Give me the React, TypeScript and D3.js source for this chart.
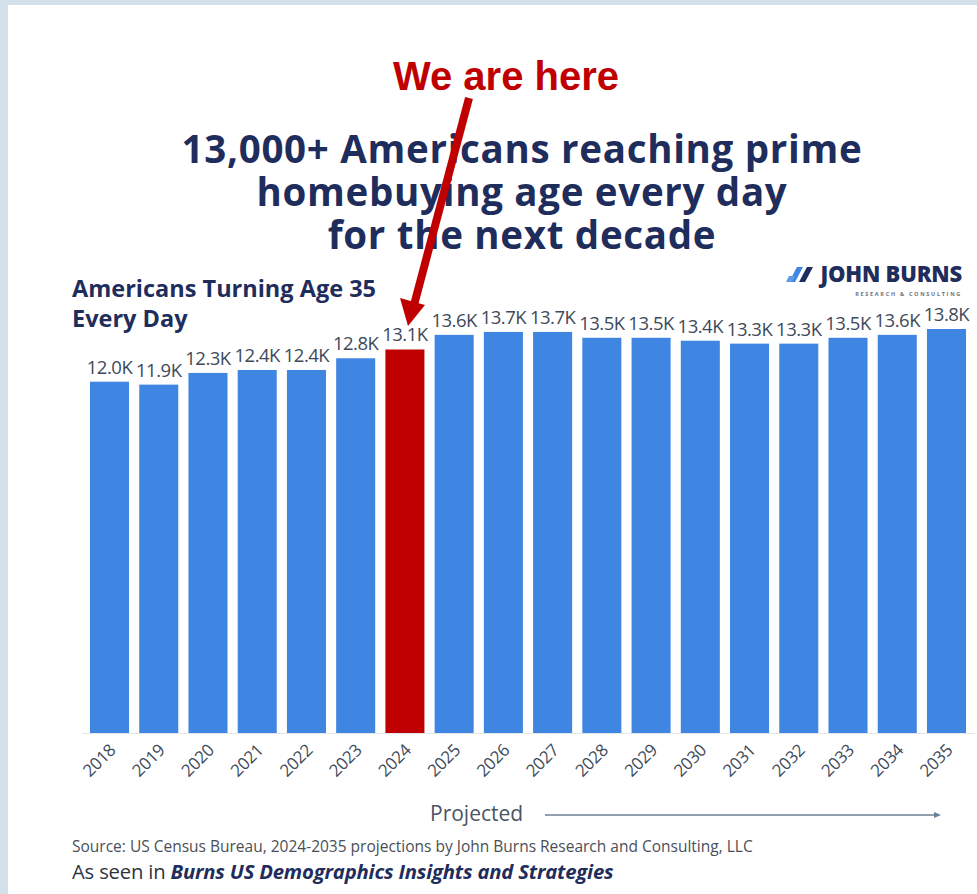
import React from "react";
import * as d3 from "d3";

const years = ["2018","2019","2020","2021","2022","2023","2024","2025","2026","2027","2028","2029","2030","2031","2032","2033","2034","2035"];
const values = [12.0,11.9,12.3,12.4,12.4,12.8,13.1,13.6,13.7,13.7,13.5,13.5,13.4,13.3,13.3,13.5,13.6,13.8];
const highlightYear = "2024";
const titleLines = ["13,000+ Americans reaching prime", "homebuying age every day", "for the next decade"];
const subtitleLines = ["Americans Turning Age 35", "Every Day"];

const W = 977, H = 894;
const NAVY = "#1f2d5c";
const BLUE = "#3f86e2";
const RED = "#c00000";
const GRAY = "#3e4a5a";
const FONT = "'Open Sans', Lato, sans-serif";

export default function App() {
  const x = d3.scaleBand<string>().domain(years).range([90, 966]).paddingInner(0.207).paddingOuter(0);
  const y = d3.scaleLinear().domain([0, 13.8]).range([733, 329]);
  const bw = x.bandwidth();

  return (
    <div style={{ position: "absolute", left: 0, top: 0 }}>
      <svg width={W} height={H} style={{ display: "block" }}>
        <rect x={0} y={0} width={W} height={H} fill="#d5e1ea" />
        <rect x={8} y={5} width={W - 8} height={H - 5} fill="#ffffff" />

        {/* Title */}
        {titleLines.map((t, i) => (
          <text key={t} x={522} y={163 + i * 43} textAnchor="middle" fontFamily={FONT} fontWeight={700}
            fontSize={38.5} letterSpacing={0.7} fill={NAVY}>{t}</text>
        ))}

        {/* Subtitle */}
        {subtitleLines.map((t, i) => (
          <text key={t} x={72} y={297 + i * 30} fontFamily={FONT} fontWeight={700} fontSize={23.5} fill={NAVY}>{t}</text>
        ))}

        {/* Logo */}
        <g>
          <polygon points="789,282 797,267 803,267 795,282" fill="#3f86e2" />
          <polygon points="799,282 807,267 813,267 805,282" fill={NAVY} />
          <polygon points="786,282 789,276 795,276 792,282" fill="#5b9be8" />
          <text x={962} y={282} textAnchor="end" fontFamily={FONT} fontWeight={800} fontSize={22} letterSpacing={-0.2} fill={NAVY}>JOHN BURNS</text>
          <text x={962} y={296} textAnchor="end" fontFamily={FONT} fontWeight={700} fontSize={5.5} letterSpacing={1.7} fill="#6b7280">RESEARCH &amp; CONSULTING</text>
        </g>

        {/* Baseline */}
        <line x1={82} x2={975} y1={733.5} y2={733.5} stroke="#e3e6ea" strokeWidth={1} />

        {/* Bars */}
        {years.map((yr, i) => (
          <rect key={yr} x={x(yr)} y={y(values[i])} width={bw} height={y(0) - y(values[i])}
            fill={yr === highlightYear ? RED : BLUE} />
        ))}

        {/* Value labels */}
        {years.map((yr, i) => (
          <text key={"v" + yr} x={(x(yr) as number) + bw / 2} y={y(values[i]) - 8} textAnchor="middle"
            fontFamily={FONT} fontSize={18.5} letterSpacing={-0.5} fill={GRAY}>{values[i].toFixed(1)}K</text>
        ))}

        {/* X labels */}
        {years.map((yr) => {
          const cx = (x(yr) as number) + bw / 2 + 4;
          return (
            <text key={"x" + yr} transform={`translate(${cx},${748}) rotate(-45)`} textAnchor="end"
              dominantBaseline="middle" fontFamily={FONT} fontSize={17} letterSpacing={-0.3} fill={GRAY}>{yr}</text>
          );
        })}

        {/* Projected */}
        <text x={430} y={821} fontFamily={FONT} fontSize={21} fill="#4a5565">Projected</text>
        <line x1={545} x2={936} y1={815} y2={815} stroke="#6d7f96" strokeWidth={1.3} />
        <polygon points="941,815 934,812 934,818" fill="#6d7f96" />

        {/* Footer */}
        <text x={72} y={852} fontFamily={FONT} fontSize={15.5} fill="#4a4f57">
          Source: US Census Bureau, 2024-2035 projections by John Burns Research and Consulting, LLC
        </text>
        <text x={72} y={879} fontFamily={FONT} fontSize={20.3} letterSpacing={-0.2} fill="#2d3440">
          As seen in <tspan fontWeight={700} fontStyle="italic" fill={NAVY}>Burns US Demographics Insights and Strategies</tspan>
        </text>

        {/* Annotation */}
        <text x={506} y={90} textAnchor="middle" fontFamily="'Liberation Sans', Arial, sans-serif" fontWeight={700}
          fontSize={40} fill={RED}>We are here</text>
        <line x1={469} y1={98} x2={414} y2={305} stroke={RED} strokeWidth={8} />
        <polygon points="408,326 400,298 425,305" fill={RED} />
      </svg>
    </div>
  );
}
